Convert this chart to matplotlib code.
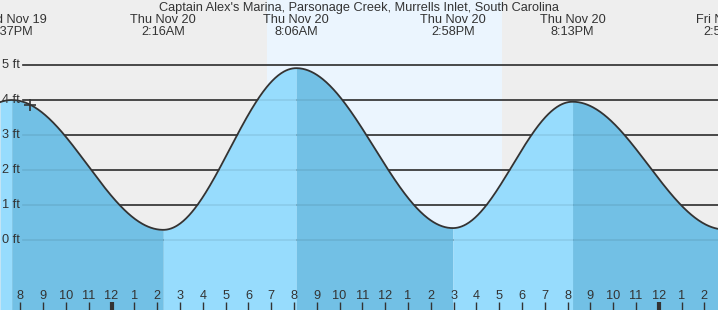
import matplotlib.pyplot as plt
import numpy as np

plt.rcParams['font.family'] = ['Liberation Sans', 'DejaVu Sans']

# hours counted from Wed Nov 19 00:00
extreme_t = [13.42, 19.617, 26.267, 32.1, 38.967, 44.217, 50.9]
extreme_h = [0.30, 4.00, 0.29, 4.91, 0.34, 3.95, 0.30]
extreme_lbl = ["Wed Nov 19\n1:25PM", "Wed Nov 19\n7:37PM", "Thu Nov 20\n2:16AM", "Thu Nov 20\n8:06AM",
               "Thu Nov 20\n2:58PM", "Thu Nov 20\n8:13PM", "Fri Nov 21\n2:54AM"]
sunrise, sunset = 30.82, 41.12
now_t = 20.42
feet = [0, 1, 2, 3, 4, 5]
hours = list(range(20, 51))
title = "Captain Alex's Marina, Parsonage Creek, Murrells Inlet, South Carolina"

W, H = 718, 310
px = 22.8  # pixels per hour
t_left = 20 - 20.4 / px
t_right = t_left + W / px
fpx = 35.0  # pixels per foot
y_top = 240 / fpx
y_bot = (240 - H) / fpx
fs = 9.2

def tide(t):
    t = np.atleast_1d(t)
    out = np.zeros_like(t, dtype=float)
    for i in range(len(extreme_t) - 1):
        t0, t1 = extreme_t[i], extreme_t[i + 1]
        h0, h1 = extreme_h[i], extreme_h[i + 1]
        m = (t >= t0) & (t <= t1)
        out[m] = h0 + (h1 - h0) * (1 - np.cos(np.pi * (t[m] - t0) / (t1 - t0))) / 2
    return out

fig = plt.figure(figsize=(W / 100, H / 100), dpi=100)
ax = fig.add_axes([0, 0, 1, 1])
ax.set_xlim(t_left, t_right)
ax.set_ylim(y_bot, y_top)
ax.axis('off')
ax.add_patch(plt.Rectangle((t_left, y_bot), t_right - t_left, y_top - y_bot, color='#eeeeee', zorder=0))
ax.axvspan(sunrise, sunset, color='#ebf5fe', zorder=0.5, lw=0)

gx0 = t_left + 23 / px
for f in feet:
    ax.plot([gx0, t_right], [f, f], color='#333333', lw=1.2, zorder=1)
    ax.text(t_left + 2 / px, f, f"{f} ft", ha='left', va='center', fontsize=fs, color='#333333', zorder=5)

# fill segments: rising light, falling dark
for i in range(len(extreme_t) - 1):
    t0, t1 = max(extreme_t[i], t_left), min(extreme_t[i + 1], t_right)
    if t1 <= t0:
        continue
    tt = np.linspace(t0, t1, 200)
    col = '#97dcfd' if extreme_h[i + 1] > extreme_h[i] else '#72c0e5'
    ax.fill_between(tt, y_bot, tide(tt), color=col, lw=0, zorder=2)
for f in feet:
    ax.plot([gx0, t_right], [f, f], color='black', alpha=0.08, lw=1.2, zorder=3)

tt = np.linspace(t_left, t_right, 1000)
ax.plot(tt, tide(tt), color='#333333', lw=1.3, zorder=4)
ax.plot([now_t], tide(now_t), marker='+', ms=9, mew=1.2, color='#333333', zorder=5)

ax.text((t_left + t_right) / 2, y_top - 7.5 / fpx, title, ha='center', va='center', fontsize=fs, color='#333333')
for t, lbl in zip(extreme_t, extreme_lbl):
    if t < t_left - 1.5 or t > t_right + 1.5:
        continue
    ax.text(t, y_top - 26 / fpx, lbl, ha='center', va='center', fontsize=fs, color='#333333',
            linespacing=1.0)

for h in hours:
    lab = str((h % 12) or 12)
    ax.text(h, y_top - 296 / fpx, lab, ha='center', va='center', fontsize=fs, color='#333333', zorder=5)
    thick = h % 24 == 0
    ax.plot([h, h], [y_top - 302 / fpx, y_bot], color='#333333', lw=3 if thick else 1,
            solid_capstyle='butt', zorder=5)

fig.savefig('out.png', dpi=100)
